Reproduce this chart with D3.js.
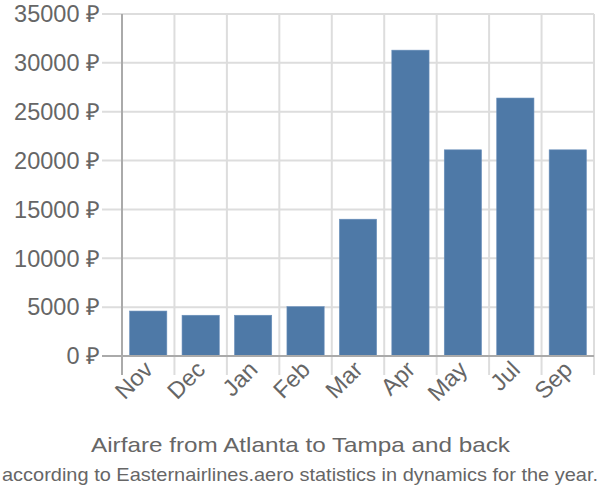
<!DOCTYPE html>
<html><head><meta charset="utf-8">
<script src="https://cdn.jsdelivr.net/npm/d3@7"></script>
<style>body{margin:0;background:#fff}svg{display:block}text{font-family:"Liberation Sans",Arial,sans-serif}</style>
</head><body><svg id="c" width="600" height="500"></svg>
<script>
const months = ["Nov","Dec","Jan","Feb","Mar","Apr","May","Jul","Sep"];
const prices = [4600,4170,4170,5050,14000,31300,21100,26400,21100];
const yTicks = [0,5000,10000,15000,20000,25000,30000,35000];
const title = "Airfare from Atlanta to Tampa and back";
const subtitle = "according to Easternairlines.aero statistics in dynamics for the year.";

const svg = d3.select("#c");
const L=122,R=594,T=14,B=356;
const x = d3.scaleBand().domain(months).range([L,R]).paddingInner(0.29).paddingOuter(0.145);
const xb = d3.scaleBand().domain(months).range([L,R]);
const y = d3.scaleLinear().domain([0,35000]).range([B,T]);

svg.append("g").selectAll("line").data(yTicks).join("line")
  .attr("x1",102).attr("x2",R).attr("y1",d=>y(d)).attr("y2",d=>y(d))
  .attr("stroke",d=>d===0?"#aaa":"#ddd").attr("stroke-width",2);
const bounds = months.map(m=>xb(m)).concat([R]);
svg.append("g").selectAll("line").data(bounds).join("line")
  .attr("x1",d=>d).attr("x2",d=>d).attr("y1",T).attr("y2",375)
  .attr("stroke",(d,i)=>i===0?"#aaa":"#ddd").attr("stroke-width",2);

svg.append("g").selectAll("rect").data(prices).join("rect")
  .attr("x",(d,i)=>x(months[i])).attr("width",x.bandwidth())
  .attr("y",d=>y(d)).attr("height",d=>B-y(d))
  .attr("fill","#4e79a7").attr("stroke","#6a8fbb").attr("stroke-width",0.6);

svg.append("line").attr("x1",102).attr("x2",R).attr("y1",B).attr("y2",B).attr("stroke","#aaa").attr("stroke-width",2);

svg.append("g").selectAll("text").data(yTicks).join("text")
  .attr("x",100).attr("y",d=>y(d)).attr("dy","0.35em").attr("text-anchor","end")
  .attr("font-size",23.5).attr("fill","#666").text(d=>d+" ₽");

svg.append("g").selectAll("text").data(months).join("text")
  .attr("transform",m=>`translate(${xb(m)+xb.bandwidth()/2+6},${371}) rotate(-45)`)
  .attr("text-anchor","end").attr("font-size",23.5).attr("fill","#666").text(m=>m);

svg.append("text").attr("x",300.5).attr("y",452).attr("text-anchor","middle")
  .attr("font-size",21).attr("fill","#666")
  .attr("textLength",419).attr("lengthAdjust","spacingAndGlyphs").text(title);
svg.append("text").attr("x",300).attr("y",481).attr("text-anchor","middle")
  .attr("font-size",19).attr("fill","#666")
  .attr("textLength",596).attr("lengthAdjust","spacingAndGlyphs").text(subtitle);
</script></body></html>
